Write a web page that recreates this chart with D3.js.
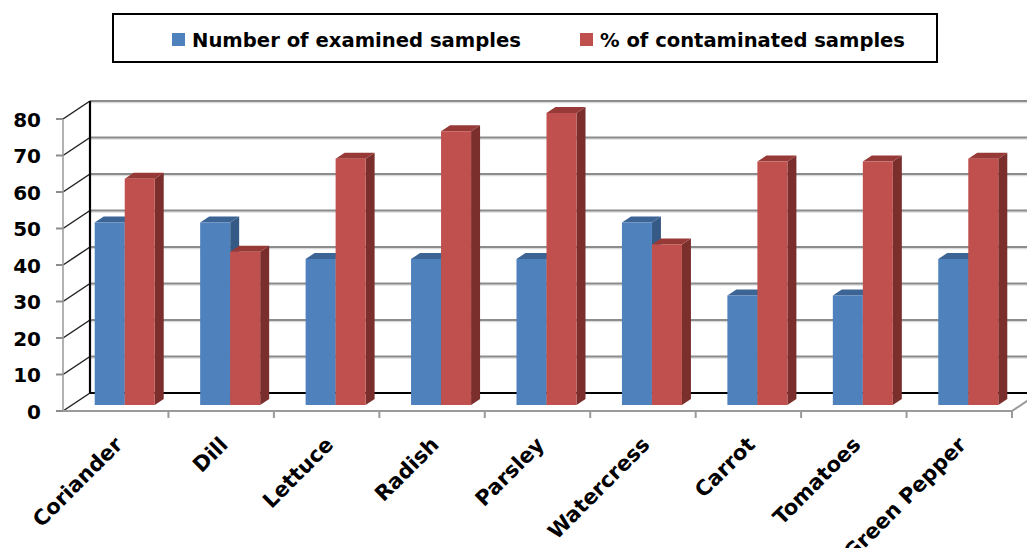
<!DOCTYPE html>
<html>
<head>
<meta charset="utf-8">
<script src="https://cdn.jsdelivr.net/npm/d3@7"></script>
<style>
  html, body { margin: 0; padding: 0; background: #fff; }
  svg { display: block; }
</style>
</head>
<body>
<svg id="chart" width="1027" height="548"></svg>
<script>
// Vegetables examined and the share of contaminated samples
const categories = ["Coriander", "Dill", "Lettuce", "Radish", "Parsley", "Watercress", "Carrot", "Tomatoes", "Green Pepper"];
const seriesNames = ["Number of examined samples", "% of contaminated samples"];
const examined = [50, 50, 40, 40, 40, 50, 30, 30, 40];
const contaminated = [62, 42, 67.5, 75, 80, 44, 66.7, 66.7, 67.5];
const yTicks = [0, 10, 20, 30, 40, 50, 60, 70, 80];

const colors = {
  front: ["#4F81BD", "#C0504D"],
  top:   ["#3C6596", "#973A37"],
  side:  ["#365A86", "#7B2F2D"]
};

const FONT = "'DejaVu Sans', Verdana, sans-serif";
const svg = d3.select("#chart");

// front plane of the plot box and depth vector of the 3-D floor
const x0 = 63, x1 = 1012;
const depth = { dx: 27, dy: -18 };

const x = d3.scaleBand().domain(categories).range([x0, x1]);
const xs = d3.scaleBand().domain(seriesNames).range([0, x.bandwidth()]).paddingOuter(0.757);
const y = d3.scaleLinear().domain([0, 80]).range([411, 119]);

const W = 1027;

// ---- back wall gridlines ----
const grid = svg.append("g");
yTicks.filter(v => v > 0).forEach(v => {
  const yy = y(v) + depth.dy;
  grid.append("line")
    .attr("x1", x0 + depth.dx).attr("x2", W + 20)
    .attr("y1", yy + 1.5).attr("y2", yy + 1.5)
    .attr("stroke", "#dcdcdc").attr("stroke-width", 1.5);
  grid.append("line")
    .attr("x1", x0 + depth.dx).attr("x2", W + 20)
    .attr("y1", yy).attr("y2", yy)
    .attr("stroke", "#8c8c8c").attr("stroke-width", 2);
});

// ---- left wall ----
const wall = svg.append("g");
yTicks.forEach(v => {
  wall.append("line")
    .attr("x1", x0).attr("y1", y(v))
    .attr("x2", x0 + depth.dx).attr("y2", y(v) + depth.dy)
    .attr("stroke", "#222").attr("stroke-width", 1.5);
  // tick marks on the front axis
  wall.append("line")
    .attr("x1", x0 - 7).attr("x2", x0)
    .attr("y1", y(v)).attr("y2", y(v))
    .attr("stroke", "#8c8c8c").attr("stroke-width", 2);
});
wall.append("line")
  .attr("x1", x0).attr("x2", x0)
  .attr("y1", y(80)).attr("y2", y(0))
  .attr("stroke", "#9a9a9a").attr("stroke-width", 1.5);
wall.append("line")
  .attr("x1", x0 + depth.dx).attr("x2", x0 + depth.dx)
  .attr("y1", y(80) + depth.dy).attr("y2", y(0) + depth.dy)
  .attr("stroke", "#000").attr("stroke-width", 2.2);

// ---- floor ----
const floor = svg.append("g");
floor.append("line")
  .attr("x1", x0 + depth.dx).attr("x2", W + 20)
  .attr("y1", y(0) + depth.dy).attr("y2", y(0) + depth.dy)
  .attr("stroke", "#000").attr("stroke-width", 2);
floor.append("line")
  .attr("x1", x0).attr("x2", x1)
  .attr("y1", y(0)).attr("y2", y(0))
  .attr("stroke", "#9a9a9a").attr("stroke-width", 2);
floor.append("line")
  .attr("x1", x1).attr("y1", y(0))
  .attr("x2", x1 + depth.dx).attr("y2", y(0) + depth.dy)
  .attr("stroke", "#9a9a9a").attr("stroke-width", 2);
// category tick marks on the front floor edge
categories.forEach((c, i) => {
  const tx = x(c) + x.bandwidth();
  floor.append("line")
    .attr("x1", tx).attr("x2", tx)
    .attr("y1", y(0)).attr("y2", y(0) + 7)
    .attr("stroke", "#9a9a9a").attr("stroke-width", 2);
});

// ---- bars ----
const bars = svg.append("g");
const fz = 1 / 3, bz = 2 / 3;  // front / back depth of each bar
const seriesValues = [examined, contaminated];

categories.forEach((c, i) => {
  seriesNames.forEach((s, k) => {
    const v = seriesValues[k][i];
    const fx = x(c) + xs(s) + depth.dx * fz;
    const w = xs.bandwidth();
    const fyTop = y(v) + depth.dy * fz;
    const fyBot = y(0) + depth.dy * fz;
    const ddx = depth.dx * (bz - fz), ddy = depth.dy * (bz - fz);

    // side face
    bars.append("path")
      .attr("d", `M${fx + w},${fyTop} L${fx + w + ddx},${fyTop + ddy} L${fx + w + ddx},${fyBot + ddy} L${fx + w},${fyBot} Z`)
      .attr("fill", colors.side[k]);
    // top face
    bars.append("path")
      .attr("d", `M${fx},${fyTop} L${fx + ddx},${fyTop + ddy} L${fx + w + ddx},${fyTop + ddy} L${fx + w},${fyTop} Z`)
      .attr("fill", colors.top[k]);
    // front face
    bars.append("rect")
      .attr("x", fx).attr("y", fyTop)
      .attr("width", w).attr("height", fyBot - fyTop)
      .attr("fill", colors.front[k]);
  });
});

// ---- y axis labels ----
svg.append("g").selectAll("text")
  .data(yTicks)
  .join("text")
  .attr("x", 41)
  .attr("y", d => y(d) + 7.5)
  .attr("text-anchor", "end")
  .attr("font-family", FONT)
  .attr("font-weight", "bold")
  .attr("font-size", 20)
  .attr("fill", "#000")
  .text(d => d);

// ---- x axis labels ----
svg.append("g").selectAll("text")
  .data(categories)
  .join("text")
  .attr("transform", d => `translate(${x(d) + x.bandwidth() / 2 + 8},${446}) rotate(-45)`)
  .attr("text-anchor", "end")
  .attr("font-family", FONT)
  .attr("font-weight", "bold")
  .attr("font-size", 21)
  .attr("fill", "#000")
  .text(d => d);

// ---- legend ----
const legend = svg.append("g");
legend.append("rect")
  .attr("x", 113).attr("y", 14)
  .attr("width", 824).attr("height", 48)
  .attr("fill", "#fff").attr("stroke", "#000").attr("stroke-width", 2);
const legendItems = [
  { sq: 172, tx: 192, len: 329 },
  { sq: 580, tx: 600, len: 305 }
];
seriesNames.forEach((s, k) => {
  legend.append("rect")
    .attr("x", legendItems[k].sq).attr("y", 33)
    .attr("width", 13).attr("height", 13)
    .attr("fill", colors.front[k]);
  legend.append("text")
    .attr("x", legendItems[k].tx).attr("y", 47)
    .attr("font-family", FONT)
    .attr("font-weight", "bold")
    .attr("font-size", 20)
    .attr("textLength", legendItems[k].len)
    .attr("lengthAdjust", "spacingAndGlyphs")
    .attr("fill", "#000")
    .text(s);
});
</script>
</body>
</html>
